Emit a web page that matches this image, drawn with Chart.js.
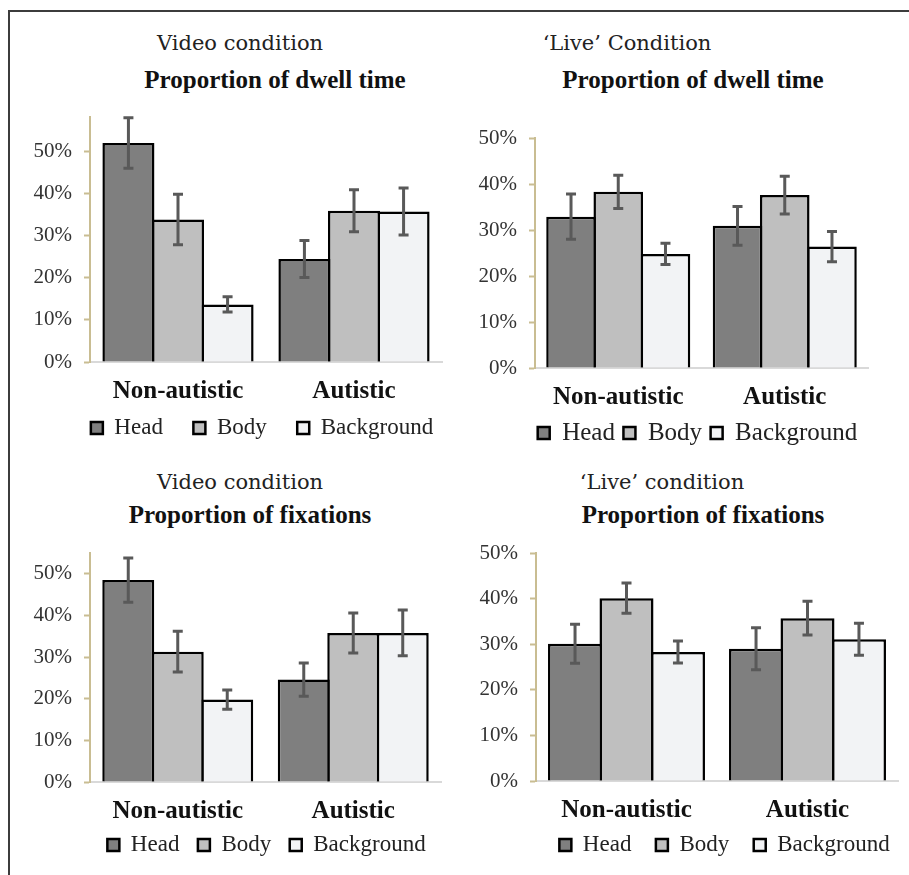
<!DOCTYPE html>
<html>
<head>
<meta charset="utf-8">
<script src="https://cdn.jsdelivr.net/npm/chart.js@4"></script>
<style>
body { margin: 0; background: #fff; }
#page { position: relative; width: 909px; height: 875px; overflow: hidden; }
#frame { position: absolute; left: 8px; top: 10px; width: 940px; height: 900px;
  border-left: 2px solid #3c3c3c; border-top: 2px solid #3c3c3c; }
canvas { position: absolute; }
.cond { position: absolute; font-family: 'DejaVu Serif'; font-size: 21px; color: #222;
  transform: translate(-50%, -50%); white-space: nowrap; }
.ttl { position: absolute; font-family: 'Liberation Serif'; font-weight: bold; font-size: 25px; color: #111;
  transform: translate(-50%, -50%); white-space: nowrap; }
.warm { position: absolute; left: -500px; top: 0; font-family: 'Liberation Serif'; }
</style>
</head>
<body>
<div id="page"><div id="frame"></div></div>
<span class="warm">0% <b>Autistic</b></span>
<script>
// categories and series
const groups = ['Non-autistic', 'Autistic'];
const areas = ['Head', 'Body', 'Background'];
const yTickValues = [0, 10, 20, 30, 40, 50];

// means (%), one row per area: Head, Body, Background
const videoDwell = [[52.1, 24.5], [33.9, 36.0], [13.7, 35.8]];
const videoDwellErr = [[6.0, 4.4], [6.0, 5.0], [1.8, 5.6]];
const liveDwell = [[32.9, 30.9], [38.3, 37.6], [24.8, 26.4]];
const liveDwellErr = [[4.9, 4.2], [3.6, 4.1], [2.3, 3.3]];
const videoFix = [[48.5, 24.6], [31.3, 35.8], [19.8, 35.8]];
const videoFixErr = [[5.3, 4.0], [4.9, 4.8], [2.3, 5.5]];
const liveFix = [[30.1, 29.0], [40.1, 35.7], [28.3, 31.1]];
const liveFixErr = [[4.3, 4.6], [3.3, 3.7], [2.4, 3.5]];

const fills = ['#7f7f7f', '#bfbfbf', '#f2f3f5'];
const tan = '#c9bd92';
const serif = '"Liberation Serif", serif';
Chart.defaults.font.family = serif;

const panels = [
  { cond: 'Video condition', title: 'Proportion of dwell time', mean: videoDwell, err: videoDwellErr,
    yMax: 58.3, box: [0, 95, 450, 355], pad: { left: 10, right: 8, top: 22, bottom: 8 }, yw: 80, xh: 40,
    cat: 0.845, leg: { cx: 262, cy: 333, pad: 30.5, fs: 23 }, condAt: [240, 43], titleAt: [275, 80] },
  { cond: '\u2018Live\u2019 Condition', title: 'Proportion of dwell time', mean: liveDwell, err: liveDwellErr,
    yMax: 50, box: [455, 95, 454, 355], pad: { left: 10, right: 41, top: 43, bottom: 0 }, yw: 70, xh: 42,
    cat: 0.851, leg: { cx: 242.5, cy: 338, pad: 8.5, fs: 25 }, condAt: [627, 43], titleAt: [693, 80] },
  { cond: 'Video condition', title: 'Proportion of fixations', mean: videoFix, err: videoFixErr,
    yMax: 55, box: [0, 530, 450, 345], pad: { left: 10, right: 9, top: 23, bottom: 13 }, yw: 80, xh: 40,
    cat: 0.846, leg: { cx: 266.5, cy: 315, pad: 18.5, fs: 23 }, condAt: [240, 482], titleAt: [250, 515] },
  { cond: '\u2018Live\u2019 condition', title: 'Proportion of fixations', mean: liveFix, err: liveFixErr,
    yMax: 50, box: [455, 530, 454, 345], pad: { left: 10, right: 11, top: 23, bottom: 14 }, yw: 71, xh: 40,
    cat: 0.853, leg: { cx: 269.5, cy: 315, pad: 24.5, fs: 23 }, condAt: [662, 482], titleAt: [703, 515] }
];

// error bars drawn from the y scale
const errorBars = {
  id: 'errorBars',
  afterDatasetsDraw(chart) {
    const ctx = chart.ctx;
    const y = chart.scales.y;
    ctx.save();
    ctx.strokeStyle = '#595959';
    ctx.lineWidth = 3;
    chart.data.datasets.forEach((ds, i) => {
      chart.getDatasetMeta(i).data.forEach((bar, j) => {
        const top = y.getPixelForValue(ds.data[j] + ds.errors[j]);
        const bot = y.getPixelForValue(ds.data[j] - ds.errors[j]);
        ctx.beginPath();
        ctx.moveTo(bar.x, top); ctx.lineTo(bar.x, bot);
        ctx.moveTo(bar.x - 5, top); ctx.lineTo(bar.x + 5, top);
        ctx.moveTo(bar.x - 5, bot); ctx.lineTo(bar.x + 5, bot);
        ctx.stroke();
      });
    });
    ctx.restore();
  }
};

// put the legend row where the original has it
const placeLegend = {
  id: 'placeLegend',
  afterLayout(chart, args, o) {
    const lg = chart.legend;
    if (!lg) return;
    const w = lg.right - lg.left;
    lg.left = o.cx - w / 2;
    lg.right = o.cx + w / 2;
    lg.top = o.cy - o.pad - o.fs / 2;
    lg.bottom = o.cy + 20;
    lg.height = lg.bottom - lg.top;
  }
};

const page = document.getElementById('page');
const charts = [];

panels.forEach(p => {
  const c = document.createElement('div');
  c.className = 'cond';
  c.textContent = p.cond;
  c.style.left = p.condAt[0] + 'px';
  c.style.top = p.condAt[1] + 'px';
  page.appendChild(c);

  const t = document.createElement('div');
  t.className = 'ttl';
  t.textContent = p.title;
  t.style.left = p.titleAt[0] + 'px';
  t.style.top = p.titleAt[1] + 'px';
  page.appendChild(t);

  const canvas = document.createElement('canvas');
  canvas.width = p.box[2];
  canvas.height = p.box[3];
  canvas.style.left = p.box[0] + 'px';
  canvas.style.top = p.box[1] + 'px';
  page.appendChild(canvas);

  charts.push(new Chart(canvas, {
    type: 'bar',
    data: {
      labels: groups,
      datasets: areas.map((name, k) => ({
        label: name,
        data: p.mean[k],
        errors: p.err[k],
        backgroundColor: fills[k],
        borderColor: '#000',
        borderWidth: 2.5,
        categoryPercentage: p.cat,
        barPercentage: 1.05
      }))
    },
    options: {
      responsive: false,
      animation: false,
      layout: { padding: p.pad },
      plugins: {
        tooltip: { enabled: false },
        placeLegend: p.leg,
        legend: {
          position: 'bottom',
          maxHeight: 40,
          labels: {
            boxWidth: 12, boxHeight: 12, padding: p.leg.pad, color: '#222',
            font: { family: serif, size: p.leg.fs }
          }
        }
      },
      scales: {
        x: {
          grid: { drawOnChartArea: false, drawTicks: false },
          border: { color: '#d9d9d9', width: 2 },
          ticks: { padding: 14.5, color: '#111', font: { family: serif, size: 25, weight: 'bold' } },
          afterFit(s) { s.height = p.xh; s.paddingLeft = 0; s.paddingRight = 0; }
        },
        y: {
          min: 0,
          max: p.yMax,
          grid: { drawOnChartArea: false, drawTicks: true, tickLength: 6, tickColor: tan, tickWidth: 2 },
          border: { color: tan, width: 2 },
          ticks: { padding: 12, color: '#333', font: { family: serif, size: 21 },
            callback: v => v + '%' },
          afterBuildTicks(s) { s.ticks = yTickValues.map(v => ({ value: v })); },
          afterFit(s) { s.width = p.yw; s.paddingTop = 0; s.paddingBottom = 0; }
        }
      }
    },
    plugins: [errorBars, placeLegend]
  }));
});

// redraw once the serif faces are ready for the canvas
Promise.all([
  document.fonts.load('21px "Liberation Serif"'),
  document.fonts.load('bold 25px "Liberation Serif"')
]).then(() => charts.forEach(ch => ch.update()));
document.fonts.ready.then(() => charts.forEach(ch => ch.update()));
</script>
</body>
</html>
